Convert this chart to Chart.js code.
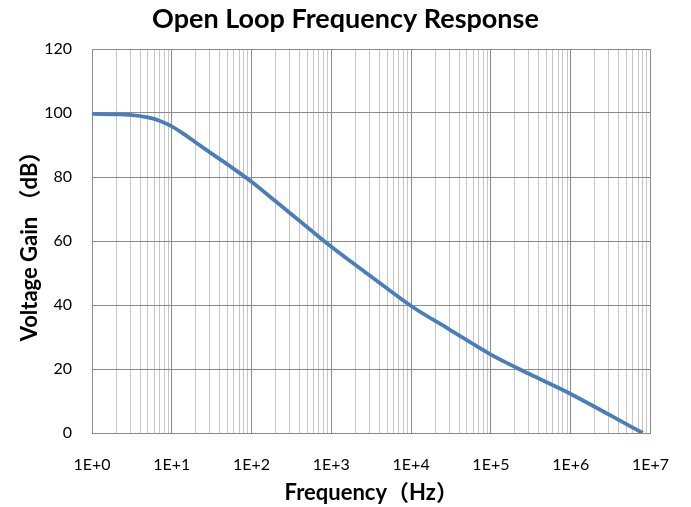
<!DOCTYPE html>
<html>
<head>
<meta charset="utf-8">
<script src="https://cdn.jsdelivr.net/npm/chart.js@4/dist/chart.umd.min.js"></script>
<style>
  html, body { margin: 0; padding: 0; background: #fff; }
  #wrap { width: 691px; height: 507px; position: relative; }
</style>
</head>
<body>
<div id="wrap"><canvas id="gainChart"></canvas></div>
<script>
// Open loop frequency response
const freqHz = [1, 2, 3, 5, 7, 10, 15, 20, 30, 50, 100, 200, 500, 1000, 3000, 10000, 30000, 100000, 300000, 1000000, 3000000, 8000000];
const gainDb = [99.7, 99.6, 99.4, 98.6, 97.6, 95.8, 93.0, 90.8, 87.7, 83.9, 78.5, 72.4, 64.3, 58.2, 49.3, 39.7, 32.4, 24.5, 18.5, 12.2, 5.8, 0];

// decades shown on the x axis (10^0 .. 10^7) and gain ticks
const decadeExps = [0, 1, 2, 3, 4, 5, 6, 7];
const gainTicks = [0, 20, 40, 60, 80, 100, 120];

const fontFam = 'Lato, "Noto Sans CJK SC", sans-serif';
const majorGrid = '#8a8a8a';
const minorGrid = '#c6c6c6';

function isDecade(v) {
    const l = Math.log10(v);
    return Math.abs(l - Math.round(l)) < 1e-9;
}

const points = freqHz.map((f, i) => ({ x: f, y: gainDb[i] }));

const ctx = document.getElementById('gainChart').getContext('2d');
new Chart(ctx, {
    type: 'scatter',
    data: {
        datasets: [{
            data: points,
            showLine: true,
            borderColor: '#4a7ebb',
            borderWidth: 3.8,
            pointRadius: 0,
            cubicInterpolationMode: 'monotone'
        }]
    },
    options: {
        responsive: true,
        maintainAspectRatio: false,
        animation: false,
        layout: { padding: 0 },
        plugins: {
            legend: { display: false },
            tooltip: { enabled: false },
            title: {
                display: true,
                text: 'Open Loop Frequency Response',
                color: '#000',
                font: { family: fontFam, size: 27, weight: 'bold', lineHeight: 1.2 },
                padding: { top: 3, bottom: 13.6 }
            }
        },
        scales: {
            x: {
                type: 'logarithmic',
                min: 1,
                max: Math.pow(10, decadeExps[decadeExps.length - 1]),
                afterBuildTicks: (scale) => {
                    const t = [];
                    decadeExps.forEach((e, i) => {
                        if (i === decadeExps.length - 1) { t.push({ value: Math.pow(10, e) }); return; }
                        for (let m = 1; m <= 9; m++) t.push({ value: m * Math.pow(10, e) });
                    });
                    scale.ticks = t;
                },
                afterFit: (scale) => { scale.height = 74; },
                ticks: {
                    autoSkip: false,
                    maxRotation: 0,
                    padding: 22,
                    color: '#000',
                    font: { family: fontFam, size: 16 },
                    callback: (v) => isDecade(v) ? '1E+' + Math.round(Math.log10(v)) : ''
                },
                grid: {
                    drawTicks: false,
                    color: (c) => (c.tick && isDecade(c.tick.value)) ? majorGrid : minorGrid,
                    lineWidth: 1
                },
                border: { color: majorGrid },
                title: {
                    display: true,
                    text: 'Frequency（Hz）',
                    color: '#000',
                    font: { family: fontFam, size: 22, weight: 'bold', lineHeight: 1.2 },
                    padding: { top: 0, bottom: 1 }
                }
            },
            y: {
                min: gainTicks[0],
                max: gainTicks[gainTicks.length - 1],
                afterBuildTicks: (scale) => { scale.ticks = gainTicks.map(v => ({ value: v })); },
                afterFit: (scale) => { scale.width = 92; },
                ticks: {
                    padding: 20,
                    color: '#000',
                    font: { family: fontFam, size: 16 }
                },
                grid: { drawTicks: false, color: majorGrid, lineWidth: 1 },
                border: { color: majorGrid },
                title: {
                    display: true,
                    text: 'Voltage Gain （dB）',
                    color: '#000',
                    font: { family: fontFam, size: 22, weight: 'bold', lineHeight: 1.2 },
                    padding: { top: 17, bottom: 0 }
                }
            },
            // empty right-hand axis, only keeps the white margin right of the plot
            yRight: {
                position: 'right',
                display: true,
                afterFit: (scale) => { scale.width = 38; },
                ticks: { display: false },
                grid: { display: false },
                border: { display: false }
            }
        }
    }
});
</script>
</body>
</html>
